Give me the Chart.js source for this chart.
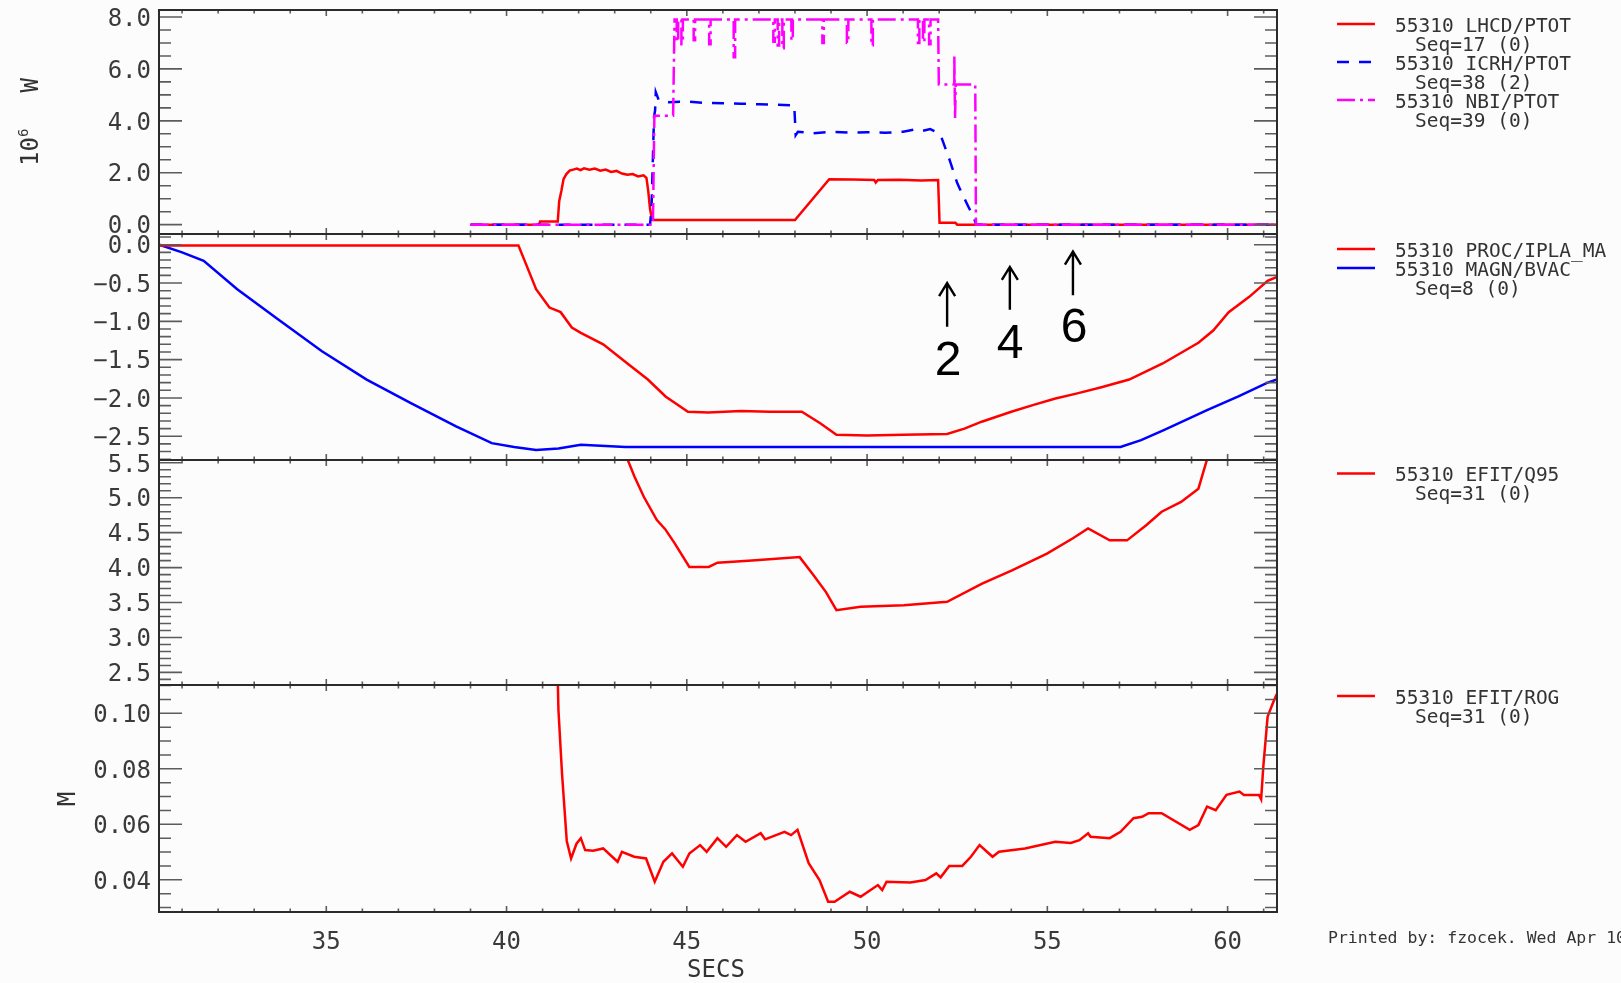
<!DOCTYPE html>
<html>
<head>
<meta charset="utf-8">
<title>55310 traces</title>
<script src="https://cdn.jsdelivr.net/npm/chart.js@4.4.1/dist/chart.umd.min.js"></script>
<style>
  html, body { margin: 0; padding: 0; background: #fcfcfc; }
  #wrap { position: relative; width: 1621px; height: 983px; overflow: hidden; background: #fcfcfc; }
  #wrap canvas { position: absolute; left: 0; }
  .txt { position: absolute; font-family: 'DejaVu Sans Mono', monospace; color: #333; white-space: pre; }
  .legend { left: 1395px; font-size: 19.5px; line-height: 19px; }
  .legend .seq { padding-left: 20px; }
  .ytitle { font-size: 24px; line-height: 24px; transform: translate(-50%, -50%) rotate(-90deg); }
  .num { position: absolute; font-family: 'Liberation Sans', Arial, sans-serif; font-size: 48px; line-height: 48px;
         color: #000; transform: translate(-50%, -50%); }
  #samples { position: absolute; left: 0; top: 0; }
</style>
</head>
<body>
<div id="wrap">
  <canvas id="p1"></canvas>
  <canvas id="p2"></canvas>
  <canvas id="p3"></canvas>
  <canvas id="p4"></canvas>
  <svg id="samples" width="1621" height="983"></svg>

  <div class="txt ytitle" style="left:31px; top:122px;">10<span style="font-size:14px; position:relative; top:-10px;">6</span><span style="margin-left:36px;">W</span></div>
  <div class="txt ytitle" style="left:67px; top:799px;">M</div>
  <div class="txt" style="left:716px; top:969px; font-size:24px; line-height:24px; transform:translate(-50%,-50%);">SECS</div>
  <div class="txt" style="left:1328px; top:938px; font-size:16.5px; line-height:16px; transform:translateY(-50%);">Printed by: fzocek. Wed Apr 10</div>

  <div class="num" style="left:948px; top:359px;">2</div>
  <div class="num" style="left:1010px; top:342px;">4</div>
  <div class="num" style="left:1074px; top:326px;">6</div>
</div>

<script>
// time axis (s)
const xTicks = [35, 40, 45, 50, 55, 60];

// panel 1: heating power, 10^6 W
const lhcd = [[39.0,0],[40.9,0],[40.93,0.12],[41.42,0.12],[41.46,0.9],[41.52,1.3],[41.58,1.75],[41.66,1.95],
  [41.75,2.08],[41.85,2.12],[41.95,2.16],[42.05,2.1],[42.15,2.17],[42.3,2.12],[42.45,2.16],[42.6,2.08],
  [42.75,2.12],[42.9,2.03],[43.05,2.07],[43.2,1.97],[43.35,1.92],[43.5,1.95],[43.65,1.86],[43.8,1.9],
  [43.88,1.8],[43.93,1.3],[43.98,0.6],[44.04,0.18],[48.0,0.18],[48.95,1.75],[49.6,1.74],[50.2,1.72],
  [50.24,1.62],[50.3,1.72],[50.9,1.73],[51.5,1.7],[51.97,1.72],[52.01,0.07],[52.45,0.07],[52.5,0],[61.37,0]];

const icrh = [[39.0,0],[43.98,0],[44.02,0.6],[44.06,2.6],[44.09,4.15],[44.12,4.4],[44.14,5.1],[44.22,4.8],
  [44.5,4.72],[45.0,4.74],[45.5,4.69],[46.0,4.68],[46.5,4.66],[47.0,4.64],[47.5,4.62],[47.98,4.6],
  [48.02,3.45],[48.08,3.58],[48.5,3.52],[49.0,3.58],[49.5,3.55],[50.0,3.56],[50.5,3.54],[51.0,3.58],
  [51.3,3.66],[51.5,3.6],[51.75,3.68],[51.95,3.55],[52.08,3.3],[52.3,2.45],[52.5,1.6],[52.6,1.3],
  [52.8,0.72],[52.95,0.3],[53.03,0],[61.37,0]];

const nbi = [[39.0,0],[44.06,0],[44.1,4.2],[44.62,4.2],[44.66,7.9],
  [44.72,7.9],[44.72,7.05],[44.76,7.05],[44.76,7.9],
  [44.85,7.9],[44.85,6.95],[44.89,6.95],[44.89,7.9],
  [45.19,7.9],[45.19,7.1],[45.23,7.1],[45.23,7.9],
  [45.62,7.9],[45.62,6.95],[45.66,6.95],[45.66,7.9],
  [46.3,7.9],[46.3,6.45],[46.34,6.45],[46.34,7.9],
  [47.4,7.9],[47.4,7.05],[47.44,7.05],[47.44,7.9],
  [47.52,7.9],[47.52,6.9],[47.56,6.9],[47.56,7.9],
  [47.65,7.9],[47.65,6.8],[47.69,6.8],[47.69,7.9],
  [47.9,7.9],[47.9,7.1],[47.94,7.1],[47.94,7.9],
  [48.76,7.9],[48.76,7.0],[48.8,7.0],[48.8,7.9],
  [49.44,7.9],[49.44,7.0],[49.48,7.0],[49.48,7.9],
  [50.12,7.9],[50.12,6.9],[50.16,6.9],[50.16,7.9],
  [51.41,7.9],[51.41,7.0],[51.45,7.0],[51.45,7.9],
  [51.55,7.9],[51.55,7.05],[51.59,7.05],[51.59,7.9],
  [51.72,7.9],[51.72,6.95],[51.76,6.95],[51.76,7.9],
  [51.97,7.9],[51.99,5.4],[52.42,5.4],[52.42,6.5],[52.44,4.1],[52.46,5.4],[53.0,5.4],[53.02,0],[61.37,0]];

// panel 2: plasma current (MA) and vacuum field
const ipla = [[30.36,-0.01],[35,-0.01],[40.33,-0.01],[40.52,-0.23],[40.82,-0.58],[41.19,-0.82],[41.5,-0.88],
  [41.81,-1.08],[42.06,-1.15],[42.68,-1.3],[43.3,-1.53],[43.92,-1.76],[44.41,-1.98],[45.03,-2.18],
  [45.6,-2.19],[46.5,-2.17],[47.3,-2.18],[48.19,-2.18],[48.7,-2.33],[49.15,-2.48],[50.0,-2.49],
  [51.0,-2.48],[52.22,-2.47],[52.7,-2.4],[53.18,-2.31],[54.0,-2.18],[54.62,-2.09],[55.2,-2.01],
  [55.83,-1.94],[56.5,-1.86],[57.27,-1.76],[58.2,-1.55],[59.19,-1.28],[59.6,-1.12],[60.03,-0.88],
  [60.6,-0.68],[61.11,-0.47],[61.37,-0.42]];

const bvac = [[30.37,0],[31.0,-0.1],[31.6,-0.21],[32.53,-0.58],[33.65,-0.97],[34.88,-1.39],[36.12,-1.76],
  [37.36,-2.07],[38.6,-2.37],[39.59,-2.59],[40.21,-2.64],[40.82,-2.68],[41.44,-2.66],[42.06,-2.61],
  [43.3,-2.64],[57.03,-2.64],[57.6,-2.55],[58.23,-2.42],[59.43,-2.16],[60.3,-1.98],[61.11,-1.8],[61.37,-1.76]];

// panel 3: q95
const q95 = [[43.3,5.62],[43.55,5.3],[43.81,5.01],[44.17,4.68],[44.4,4.55],[44.66,4.35],[45.07,4.01],
  [45.61,4.01],[45.85,4.07],[46.81,4.1],[48.13,4.15],[48.5,3.9],[48.86,3.65],[49.15,3.39],[49.82,3.44],
  [51.02,3.46],[52.22,3.51],[53.19,3.77],[54.02,3.96],[54.99,4.2],[55.71,4.42],[56.13,4.56],[56.73,4.39],
  [57.21,4.39],[57.75,4.61],[58.17,4.8],[58.71,4.94],[59.19,5.13],[59.47,5.62]];

// panel 4: ROG (m)
const rog = [[41.42,0.112],[41.44,0.101],[41.54,0.078],[41.67,0.054],[41.79,0.0477],[41.94,0.053],[42.06,0.055],
  [42.18,0.0507],[42.4,0.0505],[42.68,0.0513],[43.08,0.0465],[43.2,0.0501],[43.54,0.0483],[43.87,0.0477],
  [44.11,0.0393],[44.35,0.0465],[44.59,0.0495],[44.89,0.0447],[45.07,0.0495],[45.37,0.0525],[45.55,0.0501],
  [45.85,0.055],[46.09,0.0519],[46.39,0.0561],[46.63,0.0537],[47.05,0.0568],[47.17,0.0546],[47.71,0.0573],
  [47.89,0.0561],[48.07,0.058],[48.38,0.046],[48.68,0.0399],[48.92,0.0321],[49.1,0.0321],[49.52,0.0357],
  [49.82,0.0339],[50.3,0.0381],[50.42,0.0363],[50.54,0.0393],[51.2,0.039],[51.62,0.0399],[51.92,0.0423],
  [52.04,0.0409],[52.28,0.045],[52.64,0.045],[52.88,0.0483],[53.12,0.0525],[53.48,0.0483],[53.66,0.0501],
  [54.38,0.0513],[55.22,0.0537],[55.65,0.0533],[55.89,0.0543],[56.13,0.0568],[56.2,0.0555],[56.73,0.055],
  [57.03,0.0573],[57.39,0.0622],[57.63,0.0627],[57.81,0.064],[58.17,0.064],[58.95,0.058],[59.19,0.0597],
  [59.43,0.0664],[59.67,0.0651],[59.97,0.0706],[60.33,0.0718],[60.45,0.0706],[60.87,0.0706],[60.93,0.069],
  [60.99,0.0808],[61.11,0.0988],[61.29,0.1048],[61.37,0.107]];

// y tick labels per panel
const p1Ticks = [0, 2, 4, 6, 8];
const p2Ticks = [0, -0.5, -1, -1.5, -2, -2.5];
const p3Ticks = [2.5, 3, 3.5, 4, 4.5, 5, 5.5];
const p4Ticks = [0.04, 0.06, 0.08, 0.10];

// marked times on the current trace
const arrowT = [52.22, 53.96, 55.71];
const arrowTip = [-0.5, -0.29, -0.09];
const arrowBase = [-1.07, -0.85, -0.66];

const RED = '#ff0000', BLUE = '#0000ff', MAGENTA = '#ff00ff';
const DASH = [12, 10], DASHDOT = [18, 5, 3, 5];
const FONT = 'DejaVu Sans Mono';
const PAD = 30;

// IDL style frame: inward ticks on all four sides
const idlFrame = {
  id: 'idlFrame',
  afterDraw(chart, args, o) {
    const ctx = chart.ctx, a = chart.chartArea;
    const xs = chart.scales.x, ys = chart.scales.y;
    const isMajor = (v, list) => list.some(m => Math.abs(m - v) < 1e-7);
    ctx.save();
    ctx.lineWidth = 1.6;
    ctx.strokeStyle = '#5c5c5c';
    ctx.beginPath();
    const k0 = Math.ceil(ys.min / o.yMinor - 1e-6), k1 = Math.floor(ys.max / o.yMinor + 1e-6);
    for (let k = k0; k <= k1; k++) {
      const v = k * o.yMinor;
      const py = ys.getPixelForValue(v);
      const len = isMajor(v, o.yMajor) ? 23 : 12;
      ctx.moveTo(a.left, py); ctx.lineTo(a.left + len, py);
      ctx.moveTo(a.right, py); ctx.lineTo(a.right - len, py);
    }
    for (let v = Math.ceil(xs.min); v <= xs.max; v++) {
      const px = xs.getPixelForValue(v);
      const len = isMajor(v, xTicks) ? 6 : 3.5;
      ctx.moveTo(px, a.top); ctx.lineTo(px, a.top + len);
      ctx.moveTo(px, a.bottom); ctx.lineTo(px, a.bottom - len);
    }
    ctx.stroke();

    if (o.arrows) {
      ctx.strokeStyle = '#000';
      ctx.lineWidth = 2.4;
      ctx.beginPath();
      o.arrows.t.forEach((t, i) => {
        const px = xs.getPixelForValue(t);
        const pt = ys.getPixelForValue(o.arrows.tip[i]);
        const pb = ys.getPixelForValue(o.arrows.base[i]);
        ctx.moveTo(px, pb); ctx.lineTo(px, pt + 1);
        ctx.moveTo(px - 8, pt + 13); ctx.lineTo(px, pt); ctx.lineTo(px + 8, pt + 13);
      });
      ctx.stroke();
    }

    ctx.lineWidth = 2;
    ctx.strokeStyle = '#2b2b2b';
    ctx.strokeRect(a.left, a.top, a.right - a.left, a.bottom - a.top);
    ctx.restore();
  }
};

function series(points, color, dash, order) {
  return {
    data: points.map(p => ({ x: p[0], y: p[1] })),
    borderColor: color,
    borderWidth: 2.5,
    borderDash: dash || [],
    pointRadius: 0,
    tension: 0,
    fill: false,
    order: order || 0
  };
}

function makePanel(id, top, height, datasets, yMin, yMax, ticks, minor, digits, showX, arrows) {
  const canvas = document.getElementById(id);
  const xH = showX ? 56 : 0;
  canvas.width = 1621;
  canvas.height = PAD + height + (showX ? xH : PAD);
  canvas.style.top = (top - PAD) + 'px';

  return new Chart(canvas, {
    type: 'line',
    data: { datasets: datasets },
    options: {
      responsive: false,
      devicePixelRatio: 1,
      animation: false,
      events: [],
      layout: { autoPadding: false, padding: { left: 0, right: 1621 - 1277, top: PAD, bottom: showX ? 0 : PAD } },
      plugins: {
        legend: { display: false },
        tooltip: { enabled: false },
        idlFrame: { yMajor: ticks, yMinor: minor, arrows: arrows }
      },
      scales: {
        x: {
          type: 'linear',
          min: 30.36,
          max: 61.37,
          display: showX,
          grid: { display: false, drawTicks: false },
          border: { display: false },
          afterBuildTicks: s => { s.ticks = xTicks.map(v => ({ value: v })); },
          afterFit: s => { s.height = xH; },
          ticks: {
            autoSkip: false,
            maxRotation: 0,
            padding: 16,
            color: '#3a3a3a',
            font: { family: FONT, size: 24 },
            callback: v => String(v)
          }
        },
        y: {
          type: 'linear',
          min: yMin,
          max: yMax,
          grid: { display: false, drawTicks: false },
          border: { display: false },
          afterBuildTicks: s => { s.ticks = ticks.map(v => ({ value: v })); },
          afterFit: s => { s.width = 159; },
          ticks: {
            autoSkip: false,
            padding: 8,
            labelOffset: 2.5,
            color: '#3a3a3a',
            font: { family: FONT, size: 24 },
            callback: v => v.toFixed(digits).replace('-', '\u2212')
          }
        }
      }
    },
    plugins: [idlFrame]
  });
}

makePanel('p1', 10, 224, [
  series(lhcd, RED, null, 3),
  series(icrh, BLUE, DASH, 2),
  series(nbi, MAGENTA, DASHDOT, 1)
], -0.36, 8.27, p1Ticks, 0.5, 1, false);

makePanel('p2', 234, 226, [
  series(ipla, RED),
  series(bvac, BLUE)
], -2.81, 0.14, p2Ticks, 0.1, 1, false, { t: arrowT, tip: arrowTip, base: arrowBase });

makePanel('p3', 460, 225, [series(q95, RED)], 2.32, 5.54, p3Ticks, 0.1, 1, false);

makePanel('p4', 685, 227, [series(rog, RED)], 0.0284, 0.1102, p4Ticks, 0.005, 2, true);

// legends on the right: text as HTML, line samples as SVG
const legends = [
  { top: 15.5, items: [
    { name: '55310 LHCD/PTOT', seq: 'Seq=17 (0)', color: RED, dash: [] },
    { name: '55310 ICRH/PTOT', seq: 'Seq=38 (2)', color: BLUE, dash: DASH },
    { name: '55310 NBI/PTOT', seq: 'Seq=39 (0)', color: MAGENTA, dash: DASHDOT } ] },
  { top: 240.5, items: [
    { name: '55310 PROC/IPLA_MA', color: RED, dash: [] },
    { name: '55310 MAGN/BVAC', seq: 'Seq=8 (0)', color: BLUE, dash: [] } ] },
  { top: 465, items: [
    { name: '55310 EFIT/Q95', seq: 'Seq=31 (0)', color: RED, dash: [] } ] },
  { top: 687.5, items: [
    { name: '55310 EFIT/ROG', seq: 'Seq=31 (0)', color: RED, dash: [] } ] }
];

const wrap = document.getElementById('wrap');
const svg = document.getElementById('samples');
const NS = 'http://www.w3.org/2000/svg';
legends.forEach(lg => {
  const box = document.createElement('div');
  box.className = 'txt legend';
  box.style.top = lg.top + 'px';
  let row = 0;
  lg.items.forEach(it => {
    const d = document.createElement('div');
    d.textContent = it.name;
    box.appendChild(d);
    const y = lg.top + row * 19 + 8.5;
    const ln = document.createElementNS(NS, 'line');
    ln.setAttribute('x1', 1337); ln.setAttribute('x2', 1375);
    ln.setAttribute('y1', y); ln.setAttribute('y2', y);
    ln.setAttribute('stroke', it.color);
    ln.setAttribute('stroke-width', 2.5);
    if (it.dash.length) ln.setAttribute('stroke-dasharray', it.dash.join(' '));
    svg.appendChild(ln);
    row++;
    if (it.seq) {
      const s = document.createElement('div');
      s.className = 'seq';
      s.textContent = it.seq;
      box.appendChild(s);
      row++;
    }
  });
  wrap.appendChild(box);
});
</script>
</body>
</html>
